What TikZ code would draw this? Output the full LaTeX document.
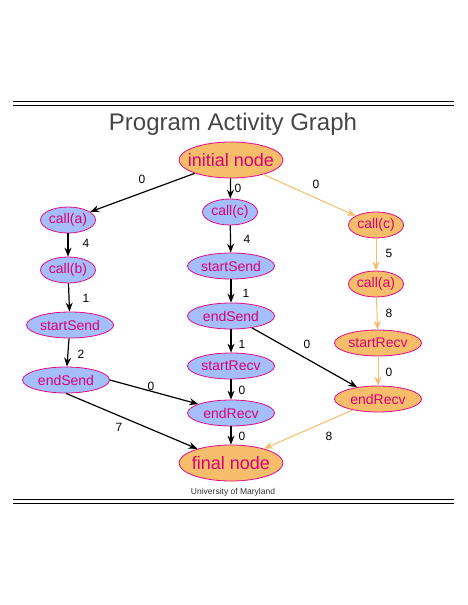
\documentclass[tikz,border=0pt]{standalone}
\usepackage{fontspec}
\setmainfont{Liberation Sans}
\usetikzlibrary{shapes.geometric,arrows.meta}
\definecolor{blfill}{RGB}{163,190,248}
\definecolor{orfill}{RGB}{246,190,106}
\definecolor{bord}{RGB}{228,10,135}
\definecolor{txt}{RGB}{220,0,120}
\definecolor{edgeor}{RGB}{246,190,106}
\definecolor{titlegray}{RGB}{70,70,70}
\tikzset{
  base/.style={ellipse,draw=bord,line width=0.8pt,text=txt,inner sep=0pt,font=\fontsize{14}{14}\selectfont},
  bl/.style={base,fill=blfill},
  orn/.style={base,fill=orfill},
  big/.style={minimum width=104pt,minimum height=36pt,inner xsep=-7.5pt,inner ysep=1pt,font=\fontsize{18}{18}\selectfont},
  sm/.style={minimum width=55pt,minimum height=26pt},
  md/.style={minimum width=87pt,minimum height=26pt},
  blk/.style={draw=black,line width=1.2pt,-{Stealth[length=9pt,width=7pt,inset=3pt]}},
  ore/.style={draw=edgeor,line width=1pt,-{Stealth[length=9pt,width=7pt,inset=3pt]}},
  lab/.style={font=\fontsize{12}{12}\selectfont,inner sep=0pt}
}
\begin{document}
\begin{tikzpicture}[x=1pt,y=-1pt]
\useasboundingbox (0,0) rectangle (468,605);
\fill[white] (0,0) rectangle (468,605);
% rules
\draw[line width=1pt] (13,101.3) -- (454,101.3);
\draw[line width=1pt] (13,105.3) -- (454,105.3);
\draw[line width=1pt] (13,499.3) -- (454,499.3);
\draw[line width=1pt] (13,503.3) -- (454,503.3);
\node[text=titlegray,font=\fontsize{24}{24}\selectfont] (title) at (233,124) {Program Activity Graph};
\node[font=\fontsize{8.5}{9}\selectfont,text=black!80] (univ) at (233,492.5) {University of Maryland};
% nodes
\node[orn,big] (init) at (231,160) {initial node};
\node[bl,sm] (ca) at (68,220) {call(a)};
\node[bl,sm] (cb) at (68,270) {call(b)};
\node[bl,md] (ssl) at (70,325) {startSend};
\node[bl,md] (esl) at (66,380) {endSend};
\node[bl,sm] (cc) at (230,212) {call(c)};
\node[bl,md] (ssm) at (231,266) {startSend};
\node[bl,md] (esm) at (231,316) {endSend};
\node[bl,md] (srm) at (231,366) {startRecv};
\node[bl,md] (erm) at (231,413) {endRecv};
\node[orn,big] (fin) at (231,463) {final node};
\node[orn,sm] (ccr) at (376,225) {call(c)};
\node[orn,sm] (car) at (376,284) {call(a)};
\node[orn,md] (srr) at (378,343) {startRecv};
\node[orn,md] (err) at (378,399) {endRecv};
% edges
\draw[blk] (init) -- (ca);
\draw[blk] (init) -- (cc);
\draw[ore] (init) -- (ccr);
\draw[blk] (ca) -- (cb);
\draw[blk] (cb) -- (ssl);
\draw[blk] (ssl) -- (esl);
\draw[blk] (cc) -- (ssm);
\draw[blk] (ssm) -- (esm);
\draw[blk] (esm) -- (srm);
\draw[blk] (srm) -- (erm);
\draw[blk] (erm) -- (fin);
\draw[blk] (esl.east) -- (erm);
\draw[blk] (esl.south) -- (fin);
\draw[blk] (esm) -- (err);
\draw[ore] (ccr) -- (car);
\draw[ore] (car) -- (srr);
\draw[ore] (srr) -- (err);
\draw[ore] (err) -- (fin);
% labels
\node[lab] (l1) at (142,179) {0};
\node[lab] (l2) at (238,188) {0};
\node[lab] (l3) at (316,184) {0};
\node[lab] (l4) at (86,243) {4};
\node[lab] (l5) at (86,298) {1};
\node[lab] (l6) at (81,354) {2};
\node[lab] (l7) at (247,239) {4};
\node[lab] (l8) at (246,293) {1};
\node[lab] (l9) at (242,344) {1};
\node[lab] (l10) at (242,390) {0};
\node[lab] (l11) at (242,436) {0};
\node[lab] (l12) at (151,386) {0};
\node[lab] (l13) at (119,427) {7};
\node[lab] (l14) at (307,344) {0};
\node[lab] (l15) at (389,253) {5};
\node[lab] (l16) at (389,313) {8};
\node[lab] (l17) at (389,372) {0};
\node[lab] (l18) at (329,436) {8};
\end{tikzpicture}
\end{document}
